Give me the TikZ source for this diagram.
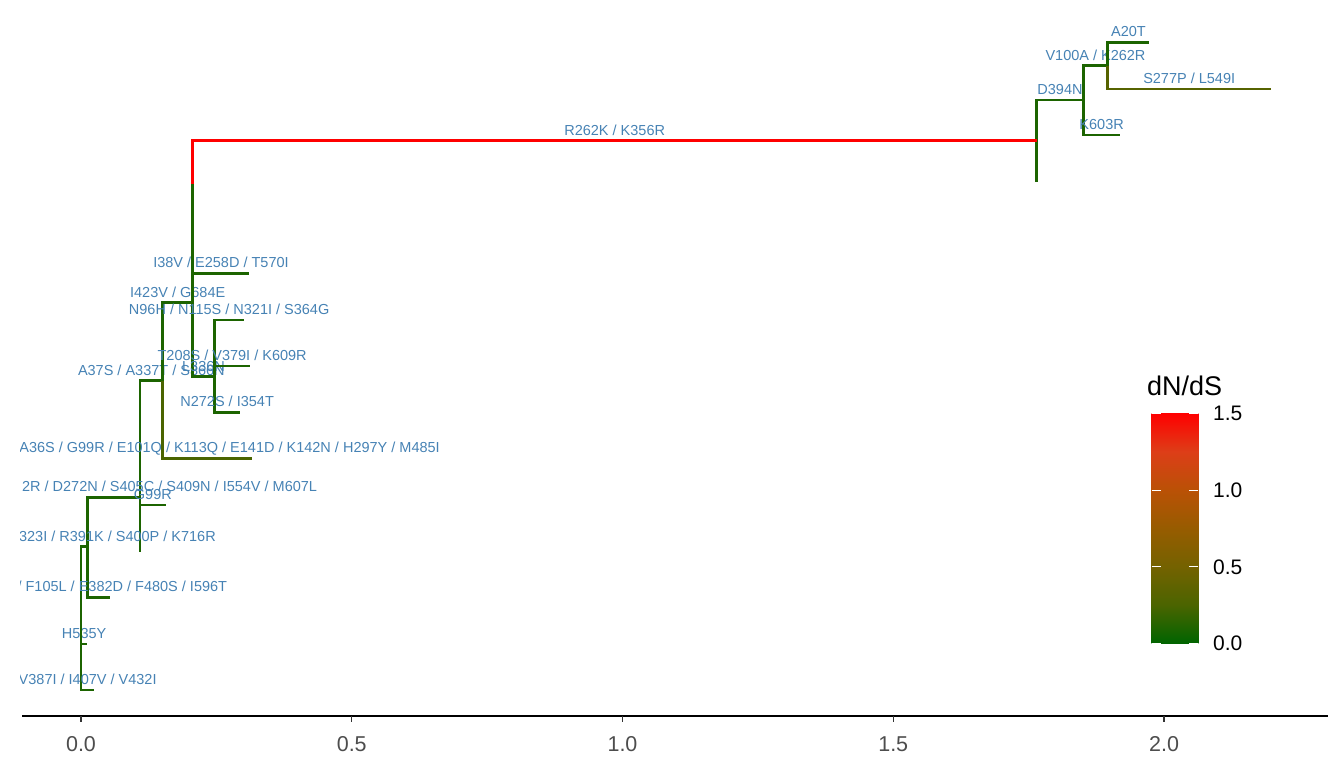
\documentclass[tikz,border=0pt]{standalone}
\usepackage{fontspec}
\setmainfont{Liberation Sans}
\definecolor{g0}{HTML}{006400}
\definecolor{g1}{HTML}{4B6400}
\definecolor{g2}{HTML}{746200}
\definecolor{g3}{HTML}{975C00}
\definecolor{g4}{HTML}{BA5106}
\definecolor{g5}{HTML}{DD3E18}
\definecolor{g6}{HTML}{FF0000}
\pgfdeclareverticalshading{dnds}{100bp}{color(0bp)=(g0); color(25bp)=(g0); color(33.333bp)=(g1); color(41.667bp)=(g2); color(50bp)=(g3); color(58.333bp)=(g4); color(66.667bp)=(g5); color(75bp)=(g6); color(100bp)=(g6)}
\definecolor{labcol}{HTML}{4682B4}
\definecolor{br}{HTML}{1C6400}
\definecolor{brolive}{HTML}{4A6400}
\definecolor{brolive2}{HTML}{566300}
\definecolor{axtext}{HTML}{4D4D4D}
\begin{document}
\begin{tikzpicture}[x=1pt,y=-1pt,
  edge/.style={line width=2.8pt, color=br},
  lab/.style={font=\fontsize{14.5}{16}\selectfont, text=labcol, inner sep=0pt, anchor=base, yshift=5.7pt},
  labe/.style={font=\fontsize{14.5}{16}\selectfont, text=labcol, inner sep=0pt, anchor=base east},
  ticklab/.style={font=\fontsize{21.5}{23}\selectfont, text=axtext, inner sep=0pt, anchor=base},
  leglab/.style={font=\fontsize{21}{23}\selectfont, text=black, inner sep=0pt, anchor=base west},
  axisline/.style={line width=2.2pt, black},
  tickline/.style={line width=1.3pt, color=black!80}]
\useasboundingbox (0,0) rectangle (1344,768);
% tree nodes
\coordinate (R) at (81,618);
\coordinate (J) at (87.7,546.7);
\coordinate (t1) at (94.3,690);
\coordinate (tH) at (87.3,644);
\coordinate (t3) at (110,597.3);
\coordinate (K) at (140,497.3);
\coordinate (W) at (140,443);
\coordinate (t4) at (140,551.7);
\coordinate (H) at (162.7,380.7);
\coordinate (tG) at (165.7,505);
\coordinate (t6) at (251.7,458.3);
\coordinate (I) at (192.7,302.7);
\coordinate (X) at (192.7,229);
\coordinate (Y) at (192.7,184);
\coordinate (t11) at (192.7,228);
\coordinate (t10) at (249.3,273.3);
\coordinate (F) at (214.3,376.7);
\coordinate (Z) at (214.3,343);
\coordinate (tN272) at (240,412.3);
\coordinate (tN96) at (244,320);
\coordinate (tT208) at (250,366);
\coordinate (C) at (1036.7,140.7);
\coordinate (t12) at (1036.7,182.3);
\coordinate (A) at (1083.3,100);
\coordinate (tK603) at (1120,135);
\coordinate (B) at (1107.7,65.7);
\coordinate (tA20) at (1149.3,42.3);
\coordinate (tS277) at (1270.7,89);
\begin{scope}
\clip (20,0) rectangle (1344,716);
% edges
\draw[edge] (R) |- (J);
\draw[edge] (R) |- (tH) node[lab,pos=0.75] (lH) {H535Y};
\draw[edge] (R) |- (t1) node[lab,pos=0.75] (l1) {V387I / I407V / V432I};
\draw[edge] (J) |- (K);
\draw[edge] (J) |- (t3);
\draw[edge] (K) |- (W);
\draw[edge] (K) |- (t4);
\draw[edge] (W) |- (H) node[lab,pos=0.75] (lH2) {A37S / A337T / S366N};
\draw[edge] (W) |- (tG) node[lab,pos=0.75] (lG) {G99R};
\draw[edge] (H) |- (I) node[lab,pos=0.75] (lI) {I423V / G684E};
\draw[edge,brolive] (H) |- (t6);
\draw[edge] (I) |- (X);
\draw[edge] (I) |- (F) node[lab,pos=0.75] (lF) {L336N};
\draw[edge] (X) |- (Y);
\draw[edge] (X) |- (t10) node[lab,pos=0.75] (l10) {I38V / E258D / T570I};
\draw[edge] (Y) |- (t11);
\draw[edge] (F) |- (Z);
\draw[edge] (F) |- (tN272) node[lab,pos=0.75] (lN272) {N272S / I354T};
\draw[edge] (Z) |- (tN96) node[lab,pos=0.75] (lN96) {N96H / N115S / N321I / S364G};
\draw[edge] (Z) |- (tT208) node[lab,pos=0.75] (lT208) {T208S / V379I / K609R};
\draw[edge] (C) |- (A) node[lab,pos=0.75] (lA) {D394N};
\draw[edge] (C) |- (t12);
\draw[edge] (A) |- (B) node[lab,pos=0.75] (lB) {V100A / K262R};
\draw[edge] (A) |- (tK603) node[lab,pos=0.75] (lK603) {K603R};
\draw[edge] (B) |- (tA20) node[lab,pos=0.75] (lA20) {A20T};
\draw[edge,brolive2] (B) |- (tS277) node[lab,pos=0.75] (lS277) {S277P / L549I};
\draw[edge,red] (Y) |- (C) node[lab,pos=0.75] (lC) {R262K / K356R};
% clipped labels
\node[labe] (lJ) at (216,541) {323I / R391K / S400P / K716R};
\node[labe] (lK) at (317.3,491.6) {2R / D272N / S405C / S409N / I554V / M607L};
\node[labe] (l3) at (227.3,591.6) {/ F105L / E382D / F480S / I596T};
\node[labe] (l6) at (440,452.6) {A36S / G99R / E101Q / K113Q / E141D / K142N / H297Y / M485I};
\end{scope}
% axis
\coordinate (axL) at (22,716);
\coordinate (axR) at (1328,716);
\draw[axisline] (axL) -- (axR);
\foreach \v/\t [count=\i] in {0/0.0,0.5/0.5,1/1.0,1.5/1.5,2/2.0}{
  \coordinate (tk\i) at (81+541.5*\v,716);
  \draw[tickline] (tk\i) -- ++(0,6);
  \node[ticklab] (tl\i) at (81+541.5*\v,751) {\t};
}
% legend
\node[font=\fontsize{27}{29}\selectfont, inner sep=0pt, anchor=base west] (legtitle) at (1147,395) {dN/dS};
\shade[shading=dnds] (1151.7,413.3) rectangle (1198.3,643.3);
\foreach \v/\t [count=\i] in {0/0.0,0.5/0.5,1/1.0,1.5/1.5}{
  \coordinate (lt\i) at (1151.7,643.3-153.33*\v);
  \draw[white, line width=0.9pt] (lt\i) -- ++(9,0);
  \draw[white, line width=0.9pt] (1198.3,643.3-153.33*\v) -- ++(-9,0);
  \node[leglab] (ll\i) at (1213,643.3-153.33*\v+7.5) {\t};
}
\end{tikzpicture}
\end{document}
